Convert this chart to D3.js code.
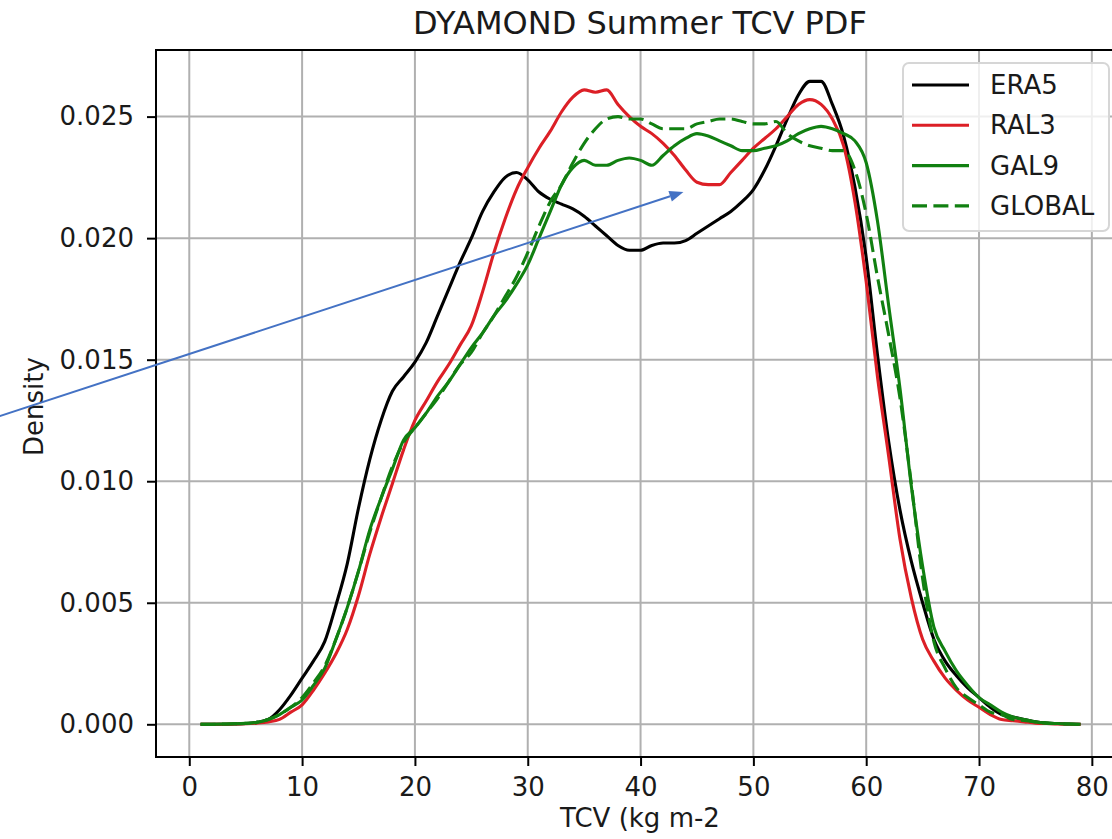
<!DOCTYPE html>
<html>
<head>
<meta charset="utf-8">
<script src="https://cdn.jsdelivr.net/npm/d3@7"></script>
<style>
  body { margin: 0; background: #fff; }
  svg { display: block; overflow: hidden; }
  text { font-family: "DejaVu Sans", sans-serif; fill: #1a1a1a; }
</style>
</head>
<body>
<div id="chart"></div>
<script>
// DATA: TCV bins (kg m-2) and the density curves
const tcv = [1, 2, 3, 4, 5, 6, 7, 8, 9, 10, 11, 12, 13, 14, 15, 16, 17, 18, 19, 20,
  21, 22, 23, 24, 25, 26, 27, 28, 29, 30, 31, 32, 33, 34, 35, 36, 37, 38, 39, 40,
  41, 42, 43, 44, 45, 46, 47, 48, 49, 50, 51, 52, 53, 54, 55, 56, 57, 58, 59, 60,
  61, 62, 63, 64, 65, 66, 67, 68, 69, 70, 71, 72, 73, 74, 75, 76, 77, 78, 79];

const era5 = [0, 0, 0, 0.00001, 0.00003, 0.00008, 0.0002, 0.0006, 0.0012, 0.0019,
  0.0026, 0.0034, 0.0049, 0.0066, 0.0089, 0.0109, 0.0125, 0.0137, 0.0143, 0.0149,
  0.0157, 0.0168, 0.0179, 0.0190, 0.0200, 0.0211, 0.0219, 0.0225, 0.0227, 0.0224,
  0.0219, 0.0216, 0.0214, 0.0212, 0.0209, 0.0205, 0.0201, 0.0197, 0.0195, 0.0195,
  0.0197, 0.0198, 0.0198, 0.0199, 0.0202, 0.0205, 0.0208, 0.0211, 0.0215, 0.0220,
  0.0228, 0.0238, 0.0249, 0.0259, 0.02645, 0.02645, 0.0255, 0.0242, 0.0221, 0.0192,
  0.0152, 0.0116, 0.0088, 0.0067, 0.0050, 0.0035, 0.0026, 0.0020, 0.0015, 0.0011,
  0.0007, 0.0004, 0.0003, 0.0002, 0.0001, 0.00005, 0.00003, 0.00001, 0];

const ral3 = [0, 0, 0, 0.00001, 0.00002, 0.00005, 0.0001, 0.0002, 0.0005, 0.0008,
  0.0014, 0.0021, 0.0029, 0.0039, 0.0053, 0.0070, 0.0085, 0.0099, 0.0113, 0.0125,
  0.0133, 0.0141, 0.0148, 0.0156, 0.0164, 0.0178, 0.0194, 0.0208, 0.0220, 0.0229,
  0.0237, 0.0244, 0.0252, 0.0258, 0.0261, 0.0260, 0.0261, 0.0255, 0.0250, 0.0246,
  0.0243, 0.0239, 0.0234, 0.0228, 0.0223, 0.0222, 0.0222, 0.0227, 0.0232, 0.0237,
  0.0241, 0.0245, 0.0250, 0.0255, 0.0257, 0.0255, 0.0249, 0.0238, 0.0215, 0.0182,
  0.0143, 0.0110, 0.0076, 0.0052, 0.0035, 0.0026, 0.0019, 0.0014, 0.0010, 0.0007,
  0.0004, 0.0002, 0.00015, 0.0001, 0.00005, 0.00003, 0.00001, 0, 0];

const gal9 = [0, 0, 0.00001, 0.00002, 0.00004, 0.00008, 0.0002, 0.0004, 0.0007, 0.0010,
  0.0016, 0.0023, 0.0035, 0.0048, 0.0063, 0.0080, 0.0093, 0.0105, 0.0117, 0.0122,
  0.0128, 0.0135, 0.0141, 0.0148, 0.0155, 0.0161, 0.0168, 0.0174, 0.0181, 0.0189,
  0.0200, 0.0211, 0.0222, 0.0229, 0.0232, 0.0230, 0.0230, 0.0232, 0.0233, 0.0232,
  0.0230, 0.0234, 0.0238, 0.0241, 0.0243, 0.0242, 0.0240, 0.0238, 0.0236, 0.0236,
  0.0237, 0.0238, 0.0240, 0.0243, 0.0245, 0.0246, 0.0245, 0.0243, 0.0240, 0.0231,
  0.0207, 0.0172, 0.0138, 0.0098, 0.0065, 0.0040, 0.0030, 0.0022, 0.0016, 0.0011,
  0.0008, 0.0005, 0.0003, 0.0002, 0.0001, 0.00005, 0.00003, 0.00001, 0];

const globalRun = [0, 0, 0.00001, 0.00002, 0.00004, 0.00008, 0.0002, 0.0004, 0.0007, 0.0011,
  0.0017, 0.0024, 0.0035, 0.0048, 0.0063, 0.0079, 0.0093, 0.0106, 0.0116, 0.0122,
  0.0128, 0.0134, 0.0141, 0.0148, 0.0153, 0.0161, 0.0168, 0.0176, 0.0184, 0.0194,
  0.0205, 0.0215, 0.0222, 0.0231, 0.0239, 0.0245, 0.0249, 0.0250, 0.0249, 0.0249,
  0.0247, 0.0245, 0.0245, 0.0245, 0.0247, 0.0248, 0.0249, 0.0249, 0.0248, 0.0247,
  0.0247, 0.0248, 0.0243, 0.0240, 0.0238, 0.0237, 0.0236, 0.0236, 0.0228, 0.0210,
  0.0184, 0.0160, 0.0134, 0.0099, 0.0060, 0.0034, 0.0023, 0.0015, 0.0011, 0.0008,
  0.0005, 0.0004, 0.0002, 0.00016, 0.0001, 0.00005, 0.00003, 0.00001, 0];

const seriesNames = ["ERA5", "RAL3", "GAL9", "GLOBAL"];
const seriesValues = [era5, ral3, gal9, globalRun];
const xTicks = [0, 10, 20, 30, 40, 50, 60, 70, 80];
const yTicks = [0, 0.005, 0.010, 0.015, 0.020, 0.025];

// annotation arrow drawn over the figure (data coords)
const arrowFrom = [-16.8, 0.01268];
const arrowTo = [43.8, 0.0219];

// styles per series
const colors = ["#000000", "#dc1f26", "#118011", "#118011"];
const dashes = [null, null, null, "15,6.4"];

// 1: SVG + margins
const W = 1112, H = 839;
const margin = { top: 50, right: -12, bottom: 82, left: 156 },
      width = W - margin.left - margin.right,
      height = H - margin.top - margin.bottom;

const svg = d3.select("#chart")
    .append("svg")
    .attr("width", W)
    .attr("height", H);

const g = svg.append("g")
    .attr("transform", `translate(${margin.left},${margin.top})`);

// 2: scales (matplotlib-style 5% margins)
const x = d3.scaleLinear().domain([-2.95, 82.85]).range([0, width]);
const y = d3.scaleLinear().domain([-0.001345, 0.02774]).range([height, 0]);

// 3: grid
g.append("g").selectAll("line")
    .data(xTicks)
    .enter().append("line")
    .attr("x1", d => x(d)).attr("x2", d => x(d))
    .attr("y1", 0).attr("y2", height)
    .attr("stroke", "#b0b0b0").attr("stroke-width", 2);

g.append("g").selectAll("line")
    .data(yTicks)
    .enter().append("line")
    .attr("x1", 0).attr("x2", width)
    .attr("y1", d => y(d)).attr("y2", d => y(d))
    .attr("stroke", "#b0b0b0").attr("stroke-width", 2);

// 4: lines
const line = d3.line()
    .x(d => x(d[0]))
    .y(d => y(d[1]))
    .curve(d3.curveMonotoneX);

seriesValues.forEach((vals, i) => {
    g.append("path")
        .datum(tcv.map((t, j) => [t, vals[j]]))
        .attr("fill", "none")
        .attr("stroke", colors[i])
        .attr("stroke-width", 3.1)
        .attr("stroke-linejoin", "round")
        .attr("stroke-dasharray", dashes[i])
        .attr("d", line);
});

// 5: axes
const xAxis = g.append("g")
    .attr("transform", `translate(0,${height})`)
    .call(d3.axisBottom(x).tickValues(xTicks).tickSize(9).tickPadding(12).tickFormat(d3.format("d")));

const yAxis = g.append("g")
    .call(d3.axisLeft(y).tickValues(yTicks).tickSize(9).tickPadding(13).tickFormat(d3.format(".3f")));

[xAxis, yAxis].forEach(ax => {
    ax.select(".domain").remove();
    ax.selectAll(".tick line").attr("stroke", "#000").attr("stroke-width", 2);
    ax.selectAll(".tick text")
        .attr("font-size", 26)
        .attr("font-family", "DejaVu Sans")
        .attr("fill", "#1a1a1a");
});

// frame (spines)
g.append("rect")
    .attr("x", 0).attr("y", 0)
    .attr("width", width).attr("height", height)
    .attr("fill", "none")
    .attr("stroke", "#000")
    .attr("stroke-width", 2);

// 6: labels
g.append("text")
    .attr("text-anchor", "middle")
    .attr("x", width / 2)
    .attr("y", -16)
    .attr("font-size", 32)
    .text("DYAMOND Summer TCV PDF");

g.append("text")
    .attr("text-anchor", "middle")
    .attr("x", width / 2)
    .attr("y", height + 70)
    .attr("font-size", 26)
    .text("TCV (kg m-2");

g.append("text")
    .attr("text-anchor", "middle")
    .attr("transform", "rotate(-90)")
    .attr("x", -height / 2 - 3)
    .attr("y", -113)
    .attr("font-size", 26)
    .text("Density");

// 7: legend
const legend = svg.append("g").attr("transform", "translate(903,63)");
legend.append("rect")
    .attr("width", 206).attr("height", 168)
    .attr("rx", 6)
    .attr("fill", "#fff").attr("fill-opacity", 0.8)
    .attr("stroke", "#d6d6d6").attr("stroke-width", 2);

seriesNames.forEach((name, i) => {
    const row = legend.append("g").attr("transform", `translate(0,${22 + i * 40.3})`);
    row.append("line")
        .attr("x1", 9).attr("x2", 66)
        .attr("stroke", colors[i])
        .attr("stroke-width", 3.1)
        .attr("stroke-dasharray", dashes[i]);
    row.append("text")
        .attr("x", 87).attr("y", 9)
        .attr("font-size", 26)
        .text(name);
});

// 8: blue annotation arrow
const ax0 = margin.left + x(arrowFrom[0]), ay0 = margin.top + y(arrowFrom[1]);
const ax1 = margin.left + x(arrowTo[0]), ay1 = margin.top + y(arrowTo[1]);
const ang = Math.atan2(ay1 - ay0, ax1 - ax0);
const headL = 14, headW = 5.5;
const bx = ax1 - headL * Math.cos(ang), by = ay1 - headL * Math.sin(ang);

svg.append("line")
    .attr("x1", ax0).attr("y1", ay0)
    .attr("x2", bx).attr("y2", by)
    .attr("stroke", "#4472c4")
    .attr("stroke-width", 2);

svg.append("path")
    .attr("d", `M${ax1},${ay1}L${bx - headW * Math.sin(ang)},${by + headW * Math.cos(ang)}L${bx + headW * Math.sin(ang)},${by - headW * Math.cos(ang)}Z`)
    .attr("fill", "#4472c4");
</script>
</body>
</html>
